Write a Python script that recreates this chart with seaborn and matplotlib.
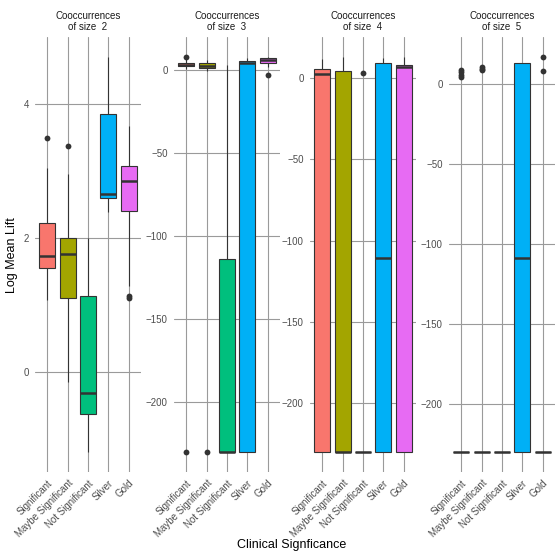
import numpy as np
import pandas as pd
import matplotlib
matplotlib.use("Agg")
import matplotlib.pyplot as plt
from matplotlib.ticker import MultipleLocator
import seaborn as sns

# Categories and colours (ggplot hue palette)
categories = ["Significant", "Maybe Significant", "Not Significant", "Silver", "Gold"]
colors = ["#F8766D", "#A3A500", "#00BF7D", "#00B0F6", "#E76BF3"]
sizes = [2, 3, 4, 5]

# Box summaries: [lower whisker, q1, median, q3, upper whisker]
size2_boxes = [[1.08, 1.55, 1.73, 2.23, 3.05],
               [-0.15, 1.10, 1.76, 2.00, 2.96],
               [-1.20, -0.63, -0.31, 1.13, 2.00],
               [2.39, 2.60, 2.66, 3.85, 4.71],
               [1.28, 2.41, 2.85, 3.08, 3.67]]
size3_boxes = [[0.5, 2.5, 3.3, 4.3, 6.5],
               [-0.5, 1.4, 2.6, 4.4, 6.0],
               [-230.5, -230.5, -230.5, -113.7, 3.0],
               [-230.5, -230.5, 4.4, 5.4, 7.0],
               [2.0, 4.0, 5.9, 7.1, 8.0]]
size4_boxes = [[-230.0, -230.0, 2.5, 5.7, 11.5],
               [-230.0, -230.0, -230.0, 4.5, 13.0],
               [-230.0, -230.0, -230.0, -230.0, -230.0],
               [-230.0, -230.0, -110.5, 9.4, 12.0],
               [-230.0, -230.0, 6.4, 8.0, 13.0]]
size5_boxes = [[-230.0, -230.0, -230.0, -230.0, -230.0],
               [-230.0, -230.0, -230.0, -230.0, -230.0],
               [-230.0, -230.0, -230.0, -230.0, -230.0],
               [-230.0, -230.0, -108.4, 13.1, 13.1],
               [-230.0, -230.0, -230.0, -230.0, -230.0]]

# Outliers (category, value)
size2_outliers = [("Significant", 3.49), ("Maybe Significant", 3.37),
                  ("Gold", 1.14), ("Gold", 1.10)]
size3_outliers = [("Significant", 7.9), ("Significant", -230.5),
                  ("Maybe Significant", -230.5), ("Gold", -3.0)]
size4_outliers = [("Not Significant", 2.9)]
size5_outliers = [("Significant", 8.7), ("Significant", 7.3), ("Significant", 5.8),
                  ("Significant", 4.2), ("Maybe Significant", 10.4),
                  ("Maybe Significant", 9.5), ("Maybe Significant", 8.5),
                  ("Gold", 17.0), ("Gold", 7.9)]

all_boxes = [size2_boxes, size3_boxes, size4_boxes, size5_boxes]
all_outliers = [size2_outliers, size3_outliers, size4_outliers, size5_outliers]
tick_steps = [2, 50, 50, 50]

sns.set_theme(style="whitegrid")
plt.rcParams['font.family'] = ['Liberation Sans', 'DejaVu Sans']

fig = plt.figure(figsize=(5.6, 5.6), dpi=100)
lefts = [35, 174, 310, 449]

for i, size in enumerate(sizes):
    ax = fig.add_axes([lefts[i] / 560, 0.157, 106 / 560, 0.777])

    # long format table from the five numbers of each box
    rows = []
    for cat, stats in zip(categories, all_boxes[i]):
        for v in stats:
            rows.append({"category": cat, "value": v})
    box_df = pd.DataFrame(rows)
    out_df = pd.DataFrame(all_outliers[i], columns=["category", "value"])

    sns.boxplot(data=box_df, x="category", y="value", hue="category",
                order=categories, hue_order=categories, palette=colors,
                saturation=1, whis=(0, 100), width=0.78, showcaps=False,
                showfliers=False, linecolor="#333333", linewidth=0.8,
                medianprops={"linewidth": 1.8}, legend=False, ax=ax)
    sns.stripplot(data=out_df, x="category", y="value", order=categories,
                  color="#333333", jitter=False, size=4.2, ax=ax)

    ax.set_xlim(-0.6, 4.6)
    ax.yaxis.set_major_locator(MultipleLocator(tick_steps[i]))
    ax.grid(True, color="#9a9a9a", linewidth=0.8)
    ax.set_axisbelow(True)
    for s in ax.spines.values():
        s.set_visible(False)
    ax.tick_params(axis="both", length=3, width=0.6, color="#555555",
                   labelcolor="#4d4d4d", labelsize=7, pad=1.5)
    ax.set_xticks(range(len(categories)))
    ax.set_xticklabels(categories, rotation=45, ha="right", rotation_mode="anchor")
    ax.set_xlabel("")
    ax.set_ylabel("")
    ax.set_title("Cooccurrences\nof size  %d" % size, fontsize=7,
                 color="#1a1a1a", pad=5, linespacing=1.1)

fig.text(0.022, 0.545, "Log Mean Lift", rotation=90, ha="center", va="center",
         fontsize=9, color="black")
fig.text(0.52, 0.027, "Clinical Signficance", ha="center", va="center",
         fontsize=9, color="black")

fig.savefig("out.png", dpi=100, facecolor="white")
